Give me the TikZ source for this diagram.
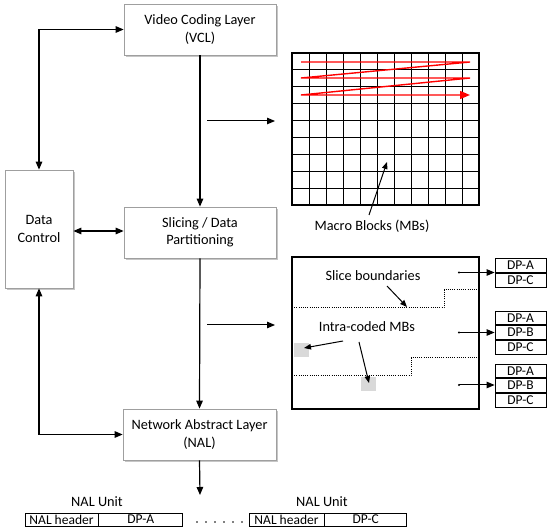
\documentclass[tikz,border=0pt]{standalone}
\usepackage{fontspec}
\setmainfont{Carlito}
\usetikzlibrary{arrows.meta,shadows}
\begin{document}
\begin{tikzpicture}[x=1pt,y=-1pt,
  every node/.style={font=\fontsize{14.3}{17.5}\selectfont},
  layerbox/.style={draw=gray!75,line width=0.7pt,fill=white,align=center,inner sep=0pt,
    minimum width=152pt,minimum height=51pt,
    drop shadow={shadow xshift=1.6pt,shadow yshift=-1.6pt,fill=gray!45,opacity=1}},
  arr/.style={line width=1.2pt,-{Triangle[length=8pt,width=6.5pt]}},
  darr/.style={line width=1.2pt,{Triangle[length=8pt,width=6.5pt]}-{Triangle[length=8pt,width=6.5pt]}},
  dpbox/.style={draw,line width=0.8pt,minimum width=51pt,minimum height=13.8pt,inner sep=0pt,
    font=\fontsize{13.5}{14}\selectfont},
  nalbox/.style={draw,line width=0.8pt,minimum height=13pt,inner sep=0pt,
    font=\fontsize{13.5}{14}\selectfont},
  bound/.style={line width=1pt,dash pattern=on 1pt off 1.2pt},
  lbl/.style={inner sep=0pt}]
\useasboundingbox (0,0) rectangle (550,532);

% layer boxes
\node[layerbox] (vcl) at (200,29.5) {Video Coding Layer\\(VCL)};
\node[layerbox] (sl) at (200,232.5) {Slicing / Data\\Partitioning};
\node[layerbox,minimum width=153pt] (nal) at (199.5,434.5) {Network Abstract Layer\\(NAL)};
\node[layerbox,minimum width=68pt,minimum height=118pt] (dc) at (39,229) {Data\\Control};

% connectors
\draw[darr] (dc.north) |- (vcl.west);
\draw[darr] (dc.east |- 0,231) -- (sl.west |- 0,231);
\draw[darr] (dc.south) |- (nal.west);
\draw[arr] (vcl.south) -- (sl.north);
\draw[arr] (sl.south) -- (nal.north);
\coordinate (nalout) at (200,495);
\draw[arr] (nal.south) -- (nalout);

\coordinate (r1a) at (207,121); \coordinate (r1b) at (275,121);
\coordinate (r2a) at (207,325); \coordinate (r2b) at (275,325);
\draw[arr,line width=1pt] (r1a) -- (r1b);
\draw[arr,line width=1pt] (r2a) -- (r2b);

% macro block grid
\foreach \i in {1,...,10} \draw[line width=1pt] ({292+17*\i},53) -- ({292+17*\i},205);
\foreach \j in {1,...,8} \draw[line width=1pt] (292,{53+16.89*\j}) -- (479,{53+16.89*\j});
\draw[line width=1.5pt] (292,53) rectangle (479,205);
\draw[red,line width=1.4pt,-{Triangle[length=10pt,width=8pt]}]
  (301,62) -- (470,62) -- (301,78) -- (470,78) -- (301,95) -- (470,95);
\node[lbl] (mb) at (372,226) {Macro Blocks (MBs)};
\coordinate (mbt) at (387,162);
\draw[arr,line width=1pt,-{Triangle[length=7pt,width=5.5pt]}] (369,215) -- (mbt);

% slice frame
\fill[gray!30] (294,343) rectangle (309,357);
\fill[gray!30] (361,377) rectangle (376,391);
\draw[line width=1.5pt] (292,257) rectangle (479,409);
\draw[bound] (292,308) -- (444,308) -- (444,290) -- (479,290);
\draw[bound] (292,376) -- (411,376) -- (411,358) -- (479,358);
\node[lbl] (sb) at (373,276) {Slice boundaries};
\coordinate (sbt) at (407,307);
\draw[arr,line width=1pt,-{Triangle[length=7pt,width=5.5pt]}] (387,286) -- (sbt);
\node[lbl] (ic) at (367,327) {Intra-coded MBs};
\coordinate (ic1) at (304,348); \coordinate (ic2) at (369,383);
\draw[arr,line width=1pt,-{Triangle[length=7pt,width=5.5pt]}] (343,341) -- (ic1);
\draw[arr,line width=1pt,-{Triangle[length=7pt,width=5.5pt]}] (359,342) -- (ic2);

% DP boxes
\node[dpbox] (g1a) at (520.5,265.6) {DP-A};
\node[dpbox,anchor=north] (g1c) at (g1a.south) {DP-C};
\node[dpbox] (g2a) at (520.5,318) {DP-A};
\node[dpbox,anchor=north] (g2b) at (g2a.south) {DP-B};
\node[dpbox,anchor=north] (g2c) at (g2b.south) {DP-C};
\node[dpbox] (g3a) at (520.5,371) {DP-A};
\node[dpbox,anchor=north] (g3b) at (g3a.south) {DP-B};
\node[dpbox,anchor=north] (g3c) at (g3b.south) {DP-C};
\coordinate (d1) at (459,272.5);
\coordinate (d2) at (459,332.5);
\coordinate (d3) at (459,385);
\foreach \d/\t in {d1/g1a.south west, d2/g2b.west, d3/g3b.west} {
  \fill (\d) circle (1.1pt);
  \draw[arr,line width=1pt] (\d) -- (\d -| \t);
}

% NAL units
\node[lbl] (nu1) at (97,502) {NAL Unit};
\node[lbl] (nu2) at (322,502) {NAL Unit};
\node[nalbox,minimum width=73pt] (h1) at (61.5,519.5) {NAL header};
\node[nalbox,minimum width=84pt,anchor=west] (p1) at (h1.east) {DP-A};
\node[nalbox,minimum width=75pt] (h2) at (286.5,519.5) {NAL header};
\node[nalbox,minimum width=82pt,anchor=west] (p2) at (h2.east) {DP-C};
\foreach \k in {0,...,5} \fill ({197+9*\k},522) circle (0.9pt);
\end{tikzpicture}
\end{document}
